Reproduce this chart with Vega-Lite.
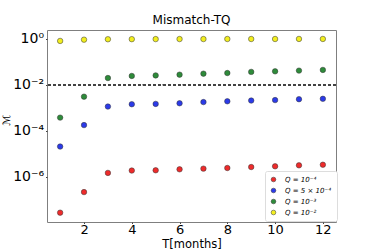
{
  "$schema": "https://vega.github.io/schema/vega-lite/v6.json",
  "width": 289,
  "height": 192,
  "autosize": "none",
  "padding": {"left": 47, "top": 30, "right": 38, "bottom": 27},
  "config": {
    "font": "DejaVu Sans",
    "view": {"stroke": "#7f7f7f", "strokeWidth": 1}
  },
  "title": {"text": "Mismatch-TQ", "fontSize": 12, "fontWeight": "normal", "font": "DejaVu Sans", "color": "black", "offset": 3},
  "data": {"values": [
    {"t": 1, "M": 2.8e-8, "s": "Q = 10⁻⁴"},
    {"t": 2, "M": 2.2e-7, "s": "Q = 10⁻⁴"},
    {"t": 3, "M": 1.5e-6, "s": "Q = 10⁻⁴"},
    {"t": 4, "M": 1.9e-6, "s": "Q = 10⁻⁴"},
    {"t": 5, "M": 1.95e-6, "s": "Q = 10⁻⁴"},
    {"t": 6, "M": 2.15e-6, "s": "Q = 10⁻⁴"},
    {"t": 7, "M": 2.3e-6, "s": "Q = 10⁻⁴"},
    {"t": 8, "M": 2.45e-6, "s": "Q = 10⁻⁴"},
    {"t": 9, "M": 2.7e-6, "s": "Q = 10⁻⁴"},
    {"t": 10, "M": 2.9e-6, "s": "Q = 10⁻⁴"},
    {"t": 11, "M": 3.2e-6, "s": "Q = 10⁻⁴"},
    {"t": 12, "M": 3.4e-6, "s": "Q = 10⁻⁴"},
    {"t": 1, "M": 2.1e-5, "s": "Q = 5 × 10⁻⁴"},
    {"t": 2, "M": 1.8e-4, "s": "Q = 5 × 10⁻⁴"},
    {"t": 3, "M": 1.15e-3, "s": "Q = 5 × 10⁻⁴"},
    {"t": 4, "M": 1.45e-3, "s": "Q = 5 × 10⁻⁴"},
    {"t": 5, "M": 1.5e-3, "s": "Q = 5 × 10⁻⁴"},
    {"t": 6, "M": 1.6e-3, "s": "Q = 5 × 10⁻⁴"},
    {"t": 7, "M": 1.8e-3, "s": "Q = 5 × 10⁻⁴"},
    {"t": 8, "M": 1.95e-3, "s": "Q = 5 × 10⁻⁴"},
    {"t": 9, "M": 2.1e-3, "s": "Q = 5 × 10⁻⁴"},
    {"t": 10, "M": 2.2e-3, "s": "Q = 5 × 10⁻⁴"},
    {"t": 11, "M": 2.4e-3, "s": "Q = 5 × 10⁻⁴"},
    {"t": 12, "M": 2.5e-3, "s": "Q = 5 × 10⁻⁴"},
    {"t": 1, "M": 3.8e-4, "s": "Q = 10⁻³"},
    {"t": 2, "M": 3.1e-3, "s": "Q = 10⁻³"},
    {"t": 3, "M": 0.02, "s": "Q = 10⁻³"},
    {"t": 4, "M": 0.0246, "s": "Q = 10⁻³"},
    {"t": 5, "M": 0.026, "s": "Q = 10⁻³"},
    {"t": 6, "M": 0.028, "s": "Q = 10⁻³"},
    {"t": 7, "M": 0.031, "s": "Q = 10⁻³"},
    {"t": 8, "M": 0.033, "s": "Q = 10⁻³"},
    {"t": 9, "M": 0.037, "s": "Q = 10⁻³"},
    {"t": 10, "M": 0.039, "s": "Q = 10⁻³"},
    {"t": 11, "M": 0.042, "s": "Q = 10⁻³"},
    {"t": 12, "M": 0.045, "s": "Q = 10⁻³"},
    {"t": 1, "M": 0.82, "s": "Q = 10⁻²"},
    {"t": 2, "M": 0.93, "s": "Q = 10⁻²"},
    {"t": 3, "M": 0.97, "s": "Q = 10⁻²"},
    {"t": 4, "M": 0.98, "s": "Q = 10⁻²"},
    {"t": 5, "M": 0.985, "s": "Q = 10⁻²"},
    {"t": 6, "M": 0.99, "s": "Q = 10⁻²"},
    {"t": 7, "M": 0.99, "s": "Q = 10⁻²"},
    {"t": 8, "M": 0.995, "s": "Q = 10⁻²"},
    {"t": 9, "M": 0.995, "s": "Q = 10⁻²"},
    {"t": 10, "M": 0.995, "s": "Q = 10⁻²"},
    {"t": 11, "M": 1.0, "s": "Q = 10⁻²"},
    {"t": 12, "M": 1.0, "s": "Q = 10⁻²"}
  ]},
  "layer": [
    {
      "mark": {"type": "rule", "color": "#444444", "strokeDash": [3, 2], "strokeWidth": 0.8},
      "encoding": {"y": {"datum": 0.01, "type": "quantitative", "scale": {"type": "log"}}}
    },
    {
      "mark": {"type": "point", "filled": true, "size": 30, "opacity": 1, "stroke": "#333333", "strokeWidth": 0.5},
      "encoding": {
        "x": {
          "field": "t", "type": "quantitative",
          "scale": {"domain": [0.45, 12.55], "nice": false, "zero": false},
          "axis": {"values": [2, 4, 6, 8, 10, 12], "title": "T[months]", "titleFontSize": 11.5, "titleFontWeight": "normal", "titleColor": "black", "titleBaseline": "alphabetic", "titleY": 25, "labelFontSize": 13, "labelColor": "black", "grid": false, "domain": false, "tickColor": "#444", "tickSize": 1.5, "labelPadding": 0}
        },
        "y": {
          "field": "M", "type": "quantitative",
          "scale": {"type": "log", "domain": [1.1e-8, 2.45], "nice": false},
          "axis": {"values": [1, 0.01, 0.0001, 0.000001], "title": "ℳ", "titleFontSize": 10, "titleFontWeight": "normal", "titleFontStyle": "italic", "titleColor": "black", "titleX": -36, "titleY": 90,
            "labelExpr": "datum.value >= 0.5 ? '10⁰' : datum.value >= 0.005 ? '10⁻²' : datum.value >= 0.00005 ? '10⁻⁴' : '10⁻⁶'",
            "labelFontSize": 14, "labelColor": "black", "grid": false, "domain": false, "tickColor": "#444", "tickSize": 1.5, "labelPadding": 2}
        },
        "color": {
          "field": "s", "type": "nominal",
          "scale": {"domain": ["Q = 10⁻⁴", "Q = 5 × 10⁻⁴", "Q = 10⁻³", "Q = 10⁻²"], "range": ["#ee2b2b", "#2b3ae8", "#2e8b3a", "#f2ee1e"]},
          "legend": {"title": null, "orient": "none", "legendX": 218, "legendY": 141, "labelFontSize": 7, "labelFont": "DejaVu Sans", "labelFontStyle": "italic", "symbolSize": 22, "symbolType": "circle", "symbolStrokeColor": "#333", "symbolStrokeWidth": 0.5, "rowPadding": 3, "padding": 5, "labelOffset": 8, "strokeColor": "#dddddd", "cornerRadius": 2, "fillColor": "white", "labelLimit": 80}
        }
      }
    }
  ]
}
